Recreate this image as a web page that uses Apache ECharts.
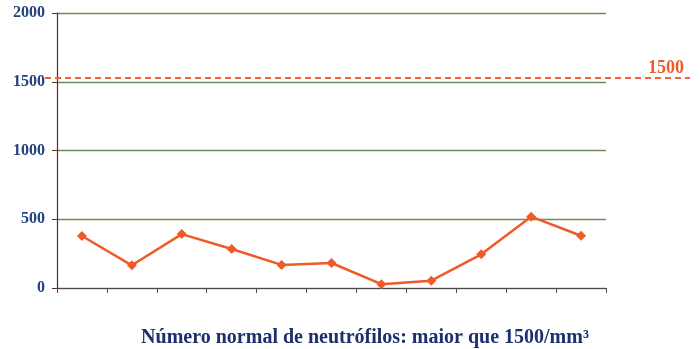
<!DOCTYPE html>
<html>
<head>
<meta charset="utf-8">
<script src="https://cdn.jsdelivr.net/npm/echarts@6/dist/echarts.min.js"></script>
<style>
  html, body { margin: 0; padding: 0; background: #fff; }
  #chart { width: 700px; height: 349px; }
</style>
</head>
<body>
<div id="chart"></div>
<script>
// valores
var categorias = ['1', '2', '3', '4', '5', '6', '7', '8', '9', '10', '11'];
var neutrofilos = [378, 165, 392, 284, 168, 182, 28, 53, 245, 519, 380];
var limiteNormal = 1530;
var limiteTexto = '1500';
var tituloTexto = 'Número normal de neutrófilos: maior que 1500/mm³';

var chart = echarts.init(document.getElementById('chart'));
var option = {
  animation: false,
  title: {
    text: tituloTexto,
    left: 360,
    textAlign: 'center',
    top: 323,
    textStyle: {
      fontFamily: 'Liberation Serif',
      fontWeight: 'bold',
      fontSize: 20,
      color: '#1c2f6e'
    }
  },
  grid: [
    { left: 57, right: 94, top: 13, bottom: 61 },
    { left: 45, right: 10, top: 13, bottom: 61 }
  ],
  xAxis: [{
    type: 'category',
    gridIndex: 0,
    data: categorias,
    boundaryGap: true,
    axisLine: { lineStyle: { color: '#4a4a4a', width: 1.2 } },
    axisTick: { show: true, length: 5, lineStyle: { color: '#4a4a4a' } },
    axisLabel: { show: false },
    splitLine: { show: false }
  }, {
    type: 'value',
    gridIndex: 1,
    min: 0, max: 1,
    show: false
  }],
  yAxis: [{
    type: 'value',
    gridIndex: 0,
    min: 0,
    max: 2000,
    interval: 500,
    axisLine: { show: true, lineStyle: { color: '#5a2d22', width: 1.2 } },
    axisTick: { show: true, length: 5, inside: false, lineStyle: { color: '#5a2d22' } },
    axisLabel: {
      margin: 12,
      formatter: function (v) { return String(v); },
      fontFamily: 'Liberation Serif',
      fontWeight: 'bold',
      fontSize: 16,
      color: '#24427e'
    },
    splitLine: { show: true, lineStyle: { color: '#6f8a5c', width: 1.3 } }
  }, {
    type: 'value',
    gridIndex: 1,
    min: 0,
    max: 2000,
    show: false
  }],
  series: [{
    type: 'line',
    xAxisIndex: 0,
    yAxisIndex: 0,
    data: neutrofilos,
    symbol: 'diamond',
    symbolSize: 10,
    lineStyle: { color: '#f05a28', width: 2.5 },
    itemStyle: { color: '#f05a28' }
  }, {
    type: 'line',
    xAxisIndex: 1,
    yAxisIndex: 1,
    data: [],
    markLine: {
      silent: true,
      symbol: 'none',
      lineStyle: { color: '#f4603a', type: [6, 4], width: 1.8 },
      label: {
        show: true,
        position: 'insideEndTop',
        formatter: limiteTexto,
        distance: [6, 0],
        fontFamily: 'Liberation Serif',
        fontWeight: 'bold',
        fontSize: 18,
        color: '#f05a28'
      },
      data: [{ yAxis: limiteNormal }]
    }
  }]
};
chart.setOption(option);
</script>
</body>
</html>
